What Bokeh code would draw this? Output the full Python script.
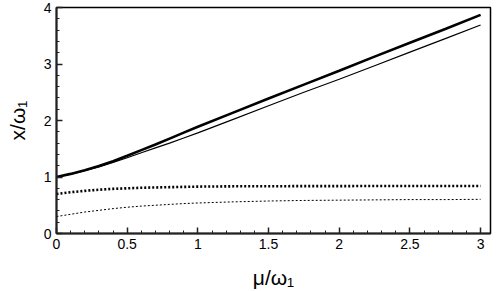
from bokeh.plotting import figure
from bokeh.models import FixedTicker, Range1d
from bokeh.embed import file_html
from bokeh.resources import INLINE

mu = [0.0, 0.1, 0.2, 0.3, 0.4, 0.5, 0.6, 0.7, 0.8, 0.9, 1.0,
      1.25, 1.5, 1.75, 2.0, 2.25, 2.5, 2.75, 3.0]
x_thick_solid = [1.00, 1.055, 1.12, 1.195, 1.28, 1.375, 1.475, 1.575, 1.68, 1.785, 1.89,
                 2.14, 2.39, 2.635, 2.88, 3.13, 3.375, 3.62, 3.87]
x_thin_solid = [1.00, 1.05, 1.11, 1.18, 1.26, 1.34, 1.43, 1.515, 1.60, 1.69, 1.78,
                2.02, 2.26, 2.50, 2.73, 2.97, 3.21, 3.45, 3.69]
x_thick_dot = [0.70, 0.73, 0.755, 0.775, 0.79, 0.80, 0.81, 0.815, 0.82, 0.825, 0.83,
               0.835, 0.837, 0.838, 0.839, 0.84, 0.84, 0.84, 0.84]
x_thin_dot = [0.30, 0.34, 0.38, 0.41, 0.44, 0.465, 0.485, 0.50, 0.515, 0.53, 0.54,
              0.56, 0.575, 0.585, 0.59, 0.595, 0.60, 0.60, 0.605]

x_ticks = [0, 0.5, 1, 1.5, 2, 2.5, 3]
x_tick_labels = ["0", "0.5", "1", "1.5", "2", "2.5", "3"]
y_ticks = [0, 1, 2, 3, 4]

p = figure(width=497, height=291, output_backend="svg", toolbar_location=None,
           x_range=Range1d(0, 3.07), y_range=Range1d(0, 4),
           min_border_left=56, min_border_right=7, min_border_top=7, min_border_bottom=56)

p.line(mu, x_thick_solid, line_color="black", line_width=2.6)
p.line(mu, x_thin_solid, line_color="black", line_width=1.2)
p.line(mu, x_thick_dot, line_color="black", line_width=2.6, line_dash="2 2")
p.line(mu, x_thin_dot, line_color="black", line_width=1.0, line_dash="2 2")

p.xgrid.visible = False
p.ygrid.visible = False
p.outline_line_color = "black"
p.outline_line_width = 1.5
p.outline_line_alpha = 1.0

minor_x = [i / 10 for i in range(0, 31)]
minor_y = [i / 5 for i in range(0, 21)]
p.xaxis.ticker = FixedTicker(ticks=x_ticks, minor_ticks=minor_x)
p.yaxis.ticker = FixedTicker(ticks=y_ticks, minor_ticks=minor_y)
p.xaxis.major_label_overrides = {t: l for t, l in zip(x_ticks, x_tick_labels)}
p.yaxis.major_label_overrides = {t: str(t) for t in y_ticks}

for ax in (p.xaxis[0], p.yaxis[0]):
    ax.axis_line_width = 2
    ax.axis_line_color = "#222222"
    ax.major_tick_in = 6
    ax.major_tick_out = 0
    ax.minor_tick_in = 3
    ax.minor_tick_out = 0
    ax.major_tick_line_color = "#222222"
    ax.minor_tick_line_color = "#222222"
    ax.major_tick_line_width = 1.5
    ax.minor_tick_line_width = 1
    ax.major_label_text_font = "Liberation Sans"
    ax.major_label_text_font_size = "14px"
    ax.major_label_text_color = "black"
    ax.axis_label_text_font = "Liberation Sans"
    ax.axis_label_text_font_size = "21px"
    ax.axis_label_text_font_style = "normal"
    ax.axis_label_text_color = "black"

p.xaxis.axis_label = "μ/ω₁"
p.yaxis.axis_label = "x/ω₁"
p.xaxis.major_label_standoff = 5
p.yaxis.major_label_standoff = 5
p.xaxis.axis_label_standoff = 14
p.yaxis.axis_label_standoff = 12

open("out.html", "w").write(file_html(p, INLINE))
